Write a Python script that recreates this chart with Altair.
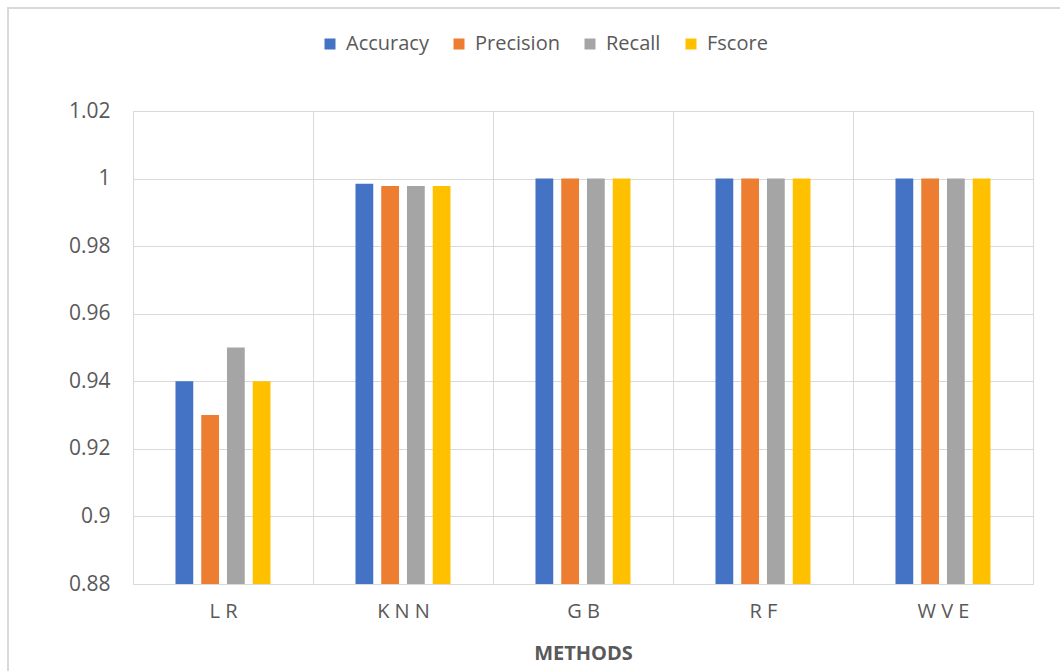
import altair as alt
import pandas as pd

# Scores per classifier and metric
methods = ["L R", "K N N", "G B", "R F", "W V E"]
metrics = ["Accuracy", "Precision", "Recall", "Fscore"]
accuracy = [0.94, 0.9985, 1.0, 1.0, 1.0]
precision = [0.93, 0.9978, 1.0, 1.0, 1.0]
recall = [0.95, 0.9978, 1.0, 1.0, 1.0]
fscore = [0.94, 0.9978, 1.0, 1.0, 1.0]
colors = ["#4472C4", "#ED7D31", "#A5A5A5", "#FFC000"]
y_ticks = [0.88, 0.90, 0.92, 0.94, 0.96, 0.98, 1.00, 1.02]

series = {"Accuracy": accuracy, "Precision": precision, "Recall": recall, "Fscore": fscore}
rows = []
for metric in metrics:
    for method, value in zip(methods, series[metric]):
        rows.append({"method": method, "metric": metric, "value": value})
df = pd.DataFrame(rows)

FONT = "Open Sans"
TEXT = "#595959"
GRID = "#d9d9d9"

# empty slots on both sides keep the bar group narrow and centred in each band
offset_domain = ["_left"] + metrics + ["_right"]

bars = alt.Chart(df).mark_bar(clip=True).encode(
    x=alt.X(
        "method:N",
        sort=methods,
        scale=alt.Scale(paddingInner=0, paddingOuter=0),
        axis=alt.Axis(
            title="METHODS",
            labelAngle=0,
            ticks=False,
            domain=False,
            grid=True,
            tickBand="extent",
            gridColor=GRID,
            labelFont=FONT,
            labelFontSize=20,
            labelColor=TEXT,
            labelPadding=17,
            titleFont=FONT,
            titleFontSize=20,
            titleFontWeight="bold",
            titleColor=TEXT,
            titlePadding=22,
        ),
    ),
    xOffset=alt.XOffset(
        "metric:N",
        scale=alt.Scale(domain=offset_domain, paddingInner=0.31, paddingOuter=0.65),
    ),
    y=alt.Y(
        "value:Q",
        scale=alt.Scale(domain=[0.88, 1.02], zero=False, nice=False),
        axis=alt.Axis(
            title=None,
            values=y_ticks,
            format="~g",
            ticks=False,
            domain=False,
            gridColor=GRID,
            labelFont=FONT,
            labelFontSize=21,
            labelColor=TEXT,
            labelPadding=23,
        ),
    ),
    color=alt.Color(
        "metric:N",
        sort=metrics,
        scale=alt.Scale(domain=metrics, range=colors),
        legend=alt.Legend(
            title=None,
            orient="none",
            direction="horizontal",
            legendX=187,
            legendY=-77,
            symbolType="square",
            symbolSize=121,
            symbolStrokeWidth=0,
            labelFont=FONT,
            labelFontSize=20,
            labelColor=TEXT,
            labelOffset=6,
            columnPadding=20,
        ),
    ),
)

# Outer chart frame
frame = alt.Chart(pd.DataFrame({"frame": [0]})).mark_rect(
    fill=None, stroke=GRID, strokeWidth=2
).encode(
    x=alt.value(-125), x2=alt.value(1000), y=alt.value(-103), y2=alt.value(640)
)

chart = alt.layer(frame, bars).properties(
    width=900,
    height=473,
    autosize=alt.AutoSizeParams(type="none"),
    padding={"left": 133, "top": 111, "right": 27, "bottom": 87},
    background="white",
).configure_view(stroke=GRID, strokeWidth=1)

chart.save("out.html", embed_options={"renderer": "svg", "actions": False})
